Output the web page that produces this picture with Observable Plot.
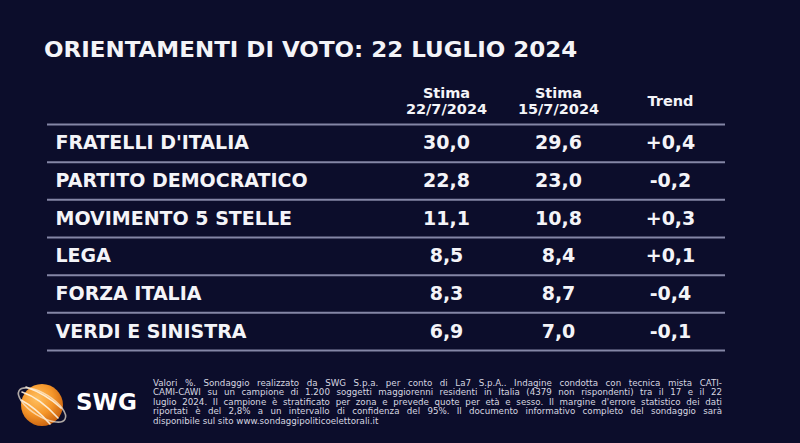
<!DOCTYPE html>
<html>
<head>
<meta charset="utf-8">
<script src="https://cdn.jsdelivr.net/npm/d3@7"></script>
<script src="https://cdn.jsdelivr.net/npm/@observablehq/plot@0.6"></script>
<style>
  html, body { margin: 0; padding: 0; background: #0c0d2b; }
  #wrap { position: relative; width: 800px; height: 443px; overflow: hidden; background: #0c0d2b; font-family: "DejaVu Sans", Verdana, sans-serif; }
  #title { position: absolute; left: 44px; top: 40px; font-size: 21px; line-height: 21px; font-weight: bold; color: #f4f4f8; white-space: nowrap; transform: scaleX(1.094); transform-origin: left top; }
  #chart { position: absolute; left: 0; top: 0; }
  #logo { position: absolute; left: 14px; top: 378px; }
  #swg { position: absolute; left: 76px; top: 391px; font-size: 23px; line-height: 23px; font-weight: bold; color: #ffffff; }
  #note { position: absolute; left: 153px; top: 379px; width: 569px; font-size: 8.7px; line-height: 9.4px; color: #d6d6e0; }
  #note div { white-space: nowrap; text-align: justify; text-align-last: justify; }
  #note div.last { text-align-last: left; }
</style>
</head>
<body>
<div id="wrap">
  <div id="title"></div>
  <div id="chart"></div>
  <svg id="logo" width="62" height="56" viewBox="0 0 62 56">
    <defs>
      <radialGradient id="orb" cx="0.38" cy="0.35" r="0.7">
        <stop offset="0" stop-color="#ffc060"/>
        <stop offset="0.55" stop-color="#f5962a"/>
        <stop offset="1" stop-color="#c8600e"/>
      </radialGradient>
    </defs>
    <circle cx="28" cy="27" r="21" fill="url(#orb)"/>
    <g fill="none" stroke="#fff3e0" stroke-width="1.6" stroke-linecap="round" opacity="0.9">
      <ellipse cx="28" cy="27" rx="27" ry="11" transform="rotate(32 28 27)" opacity="0.75"/>
      <path d="M8 14 Q26 20 44 40"/>
      <path d="M12 9 Q32 16 47 30"/>
      <path d="M7 22 Q22 30 36 46"/>
    </g>
  </svg>
  <div id="swg">SWG</div>
  <div id="note"></div>
</div>
<script>
const titleText = "ORIENTAMENTI DI VOTO: 22 LUGLIO 2024";
const parties = ["FRATELLI D'ITALIA", "PARTITO DEMOCRATICO", "MOVIMENTO 5 STELLE", "LEGA", "FORZA ITALIA", "VERDI E SINISTRA"];
const stima22 = [30.0, 22.8, 11.1, 8.5, 8.3, 6.9];
const stima15 = [29.6, 23.0, 10.8, 8.4, 8.7, 7.0];
const trend = [0.4, -0.2, 0.3, 0.1, -0.4, -0.1];
const columnKeys = ["s22", "s15", "trend"];
const estimateHeader = "Stima";
const estimateDates = ["22/7/2024", "15/7/2024"];
const trendHeader = "Trend";
const noteLines = [
  "Valori %. Sondaggio realizzato da SWG S.p.a. per conto di La7 S.p.A.. Indagine condotta con tecnica mista CATI-",
  "CAMI-CAWI su un campione di 1.200 soggetti maggiorenni residenti in Italia (4379 non rispondenti) tra il 17 e il 22",
  "luglio 2024. Il campione è stratificato per zona e prevede quote per età e sesso. Il margine d'errore statistico dei dati",
  "riportati è del 2,8% a un intervallo di confidenza del 95%. Il documento informativo completo del sondaggio sarà",
  "disponibile sul sito www.sondaggipoliticoelettorali.it"
];

document.getElementById("title").textContent = titleText;
const note = document.getElementById("note");
noteLines.forEach((t, i) => {
  const d = document.createElement("div");
  d.textContent = t;
  if (i === noteLines.length - 1) d.className = "last";
  note.appendChild(d);
});

const fmt = v => v.toFixed(1).replace(".", ",");
const fmtSigned = v => (v > 0 ? "+" : v < 0 ? "-" : "") + Math.abs(v).toFixed(1).replace(".", ",");

const rows = parties.map((p, i) => ({i, party: p}));
const cells = [];
parties.forEach((p, i) => {
  cells.push({i, col: columnKeys[0], label: fmt(stima22[i])});
  cells.push({i, col: columnKeys[1], label: fmt(stima15[i])});
  cells.push({i, col: columnKeys[2], label: fmtSigned(trend[i])});
});
const headTop = estimateDates.map((d, k) => ({col: columnKeys[k], label: estimateHeader}));
const headDate = estimateDates.map((d, k) => ({col: columnKeys[k], label: d}));
const headTrend = [{col: columnKeys[2], label: trendHeader}];
const separators = [-0.5, ...parties.map((p, i) => i + 0.5)];

const headStyle = {x: "col", text: "label", frameAnchor: "top", lineAnchor: "middle", fontSize: 14.5, fontWeight: "bold", fill: "#f4f4f8"};

const chart = Plot.plot({
  width: 800,
  height: 443,
  marginTop: 124,
  marginBottom: 93,
  marginLeft: 47,
  marginRight: 75,
  style: {background: "transparent", color: "#f4f4f8", fontFamily: "DejaVu Sans, Verdana, sans-serif", overflow: "visible"},
  x: {type: "point", domain: columnKeys, range: [445, 670], padding: 0, axis: null},
  y: {type: "linear", domain: [-0.5, parties.length - 0.5], reverse: true, axis: null},
  marks: [
    Plot.ruleY(separators, {y: d => d, stroke: "#8486a6", strokeWidth: 2}),
    Plot.text(headTop, {...headStyle, dy: -31}),
    Plot.text(headDate, {...headStyle, dy: -15}),
    Plot.text(headTrend, {...headStyle, dy: -23}),
    Plot.text(rows, {y: "i", text: "party", frameAnchor: "left", dx: 8, textAnchor: "start", fontSize: 19, fontWeight: "bold", fill: "#f4f4f8"}),
    Plot.text(cells, {x: "col", y: "i", text: "label", textAnchor: "middle", fontSize: 19, fontWeight: "bold", fill: "#f4f4f8"})
  ]
});
document.getElementById("chart").appendChild(chart);
</script>
</body>
</html>
